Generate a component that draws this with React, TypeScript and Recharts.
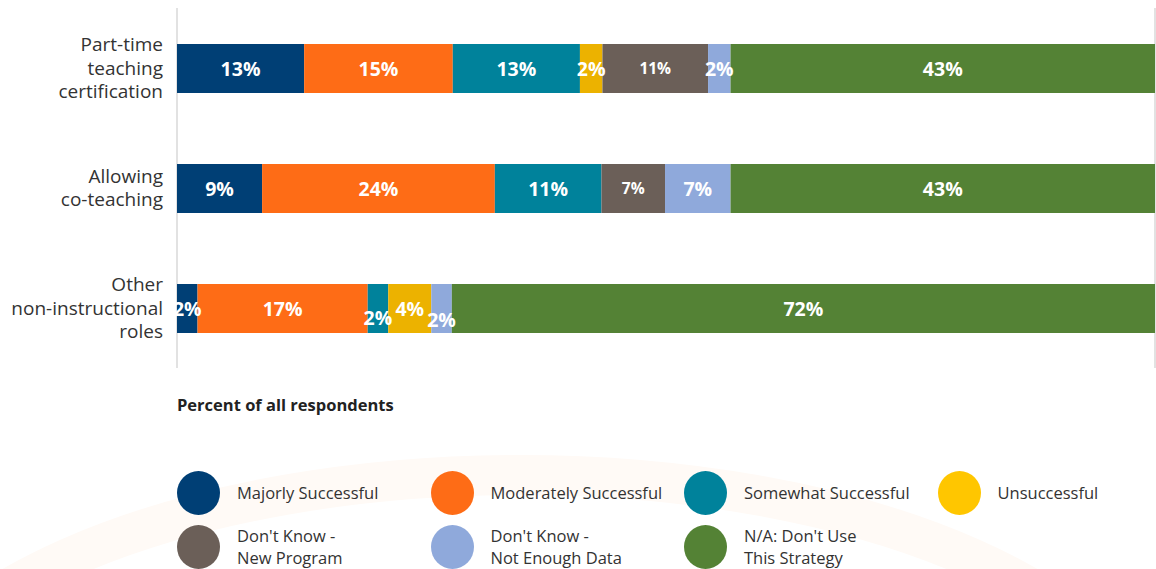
import {
  BarChart,
  Bar,
  XAxis,
  YAxis,
  CartesianGrid,
  Legend,
  LabelList,
} from "recharts";

const categories = [
  "Part-time teaching certification",
  "Allowing co-teaching",
  "Other non-instructional roles",
];
const categoryLines = [
  ["Part-time", "teaching", "certification"],
  ["Allowing", "co-teaching"],
  ["Other", "non-instructional", "roles"],
];

// percent of all respondents, per category
const majorly = [13.0, 8.7, 2.1];
const moderately = [15.2, 23.8, 17.4];
const somewhat = [13.0, 10.9, 2.1];
const unsuccessful = [2.3, 0, 4.4];
const dkNew = [10.8, 6.5, 0];
const dkData = [2.3, 6.7, 2.1];
const notUsed = [43.4, 43.4, 71.9];

const xTicks = [0, 10, 20, 30, 40, 50, 60, 70, 80, 90, 100];

const series = [
  { key: "majorly", name: "Majorly Successful", lines: ["Majorly Successful"], color: "#003f75", legend: "#003f75", values: majorly },
  { key: "moderately", name: "Moderately Successful", lines: ["Moderately Successful"], color: "#fe6c16", legend: "#fe6c16", values: moderately },
  { key: "somewhat", name: "Somewhat Successful", lines: ["Somewhat Successful"], color: "#00829b", legend: "#00829b", values: somewhat },
  { key: "unsuccessful", name: "Unsuccessful", lines: ["Unsuccessful"], color: "#ecb200", legend: "#ffc600", values: unsuccessful },
  { key: "dkNew", name: "Don't Know - New Program", lines: ["Don't Know -", "New Program"], color: "#6b5f58", legend: "#6b5f58", values: dkNew },
  { key: "dkData", name: "Don't Know - Not Enough Data", lines: ["Don't Know -", "Not Enough Data"], color: "#8fa9db", legend: "#8fa9db", values: dkData },
  { key: "notUsed", name: "N/A: Don't Use This Strategy", lines: ["N/A: Don't Use", "This Strategy"], color: "#548235", legend: "#548235", values: notUsed },
];

// small segments in the last bar have their labels nudged up/down
const labelDy: Record<string, number[]> = {
  somewhat: [0, 0, 9],
  unsuccessful: [0, 0, -9],
  dkData: [0, 0, 11],
};
const smallLabel: Record<string, boolean> = { dkNew: true };

const data = categories.map((cat, i) => {
  const row: Record<string, string | number> = { cat };
  series.forEach((s) => (row[s.key] = s.values[i]));
  return row;
});

const FONT = "'Open Sans', sans-serif";

function CategoryTick(props: any) {
  const { x, y, payload } = props;
  const idx = categories.indexOf(payload.value);
  const lines = categoryLines[idx] || [payload.value];
  const lh = 23.5;
  const top = y - ((lines.length - 1) * lh) / 2;
  return (
    <text x={x} y={top} textAnchor="end" fill="#333" fontSize={19} fontFamily={FONT}>
      {lines.map((l, i) => (
        <tspan key={i} x={x} y={top + i * lh} dy="0.35em">
          {l}
        </tspan>
      ))}
    </text>
  );
}

function makeSegmentLabel(key: string) {
  return (props: any) => {
    const { x, y, width, height, value, index } = props;
    if (!value) return null;
    const dy = (labelDy[key] || [])[index] || 0;
    return (
      <text
        x={x + width / 2}
        y={y + height / 2 + dy}
        dy="0.36em"
        textAnchor="middle"
        fill="#fff"
        fontWeight={700}
        fontSize={smallLabel[key] ? 15.5 : 19.5}
        fontFamily={FONT}
      >
        {Math.round(value)}%
      </text>
    );
  };
}

function LegendContent() {
  return (
    <div
      style={{
        display: "grid",
        gridTemplateColumns: "repeat(4, 253.5px)",
        rowGap: 10,
        fontFamily: FONT,
        fontSize: 16.5,
        color: "#333",
      }}
    >
      {series.map((s) => (
        <div key={s.key} style={{ display: "flex", alignItems: "center", height: 44 }}>
          <span
            style={{
              width: 43,
              height: 44,
              borderRadius: "50%",
              background: s.legend,
              flex: "none",
            }}
          />
          <span style={{ marginLeft: 17, lineHeight: "22px", whiteSpace: "nowrap" }}>
            {s.lines.map((l, i) => (
              <div key={i}>{l}</div>
            ))}
          </span>
        </div>
      ))}
    </div>
  );
}

export default function App() {
  return (
    <div style={{ position: "absolute", left: 0, top: 0, width: 1156, height: 569, background: "#fff", overflow: "hidden" }}>
      <svg width={1156} height={569} style={{ position: "absolute", left: 0, top: 0 }}>
        <ellipse cx={520} cy={760} rx={640} ry={285} fill="none" stroke="#fffaf6" strokeWidth={40} />
      </svg>
      <div style={{ position: "absolute", left: 0, top: 0 }}>
        <BarChart
          width={1156}
          height={569}
          data={data}
          layout="vertical"
          margin={{ top: 8, right: 1, bottom: 141, left: 0 }}
          barCategoryGap={0}
        >
          <CartesianGrid horizontal={false} stroke="#d9d9d9" strokeWidth={1.5} />
          <XAxis
            type="number"
            domain={[0, 100]}
            ticks={xTicks}
            tick={false}
            axisLine={false}
            tickLine={false}
            height={60}
            label={{
              content: (p: any) => (
                <text
                  x={p.viewBox.x}
                  y={p.viewBox.y + 43}
                  fill="#222"
                  fontWeight={700}
                  fontSize={16.5}
                  fontFamily={FONT}
                >
                  Percent of all respondents
                </text>
              ),
            }}
          />
          <YAxis
            type="category"
            dataKey="cat"
            width={177}
            axisLine={false}
            tickLine={false}
            tickSize={0}
            tickMargin={14}
            tick={<CategoryTick />}
          />
          <Legend
            layout="vertical"
            align="center"
            verticalAlign="middle"
            wrapperStyle={{ top: 471, left: 177, width: 1000, height: 98 }}
            content={<LegendContent />}
          />
          {series.map((s) => (
            <Bar
              key={s.key}
              dataKey={s.key}
              name={s.name}
              stackId="a"
              fill={s.color}
              barSize={49}
              isAnimationActive={false}
            >
              <LabelList dataKey={s.key} content={makeSegmentLabel(s.key)} />
            </Bar>
          ))}
        </BarChart>
      </div>
    </div>
  );
}
